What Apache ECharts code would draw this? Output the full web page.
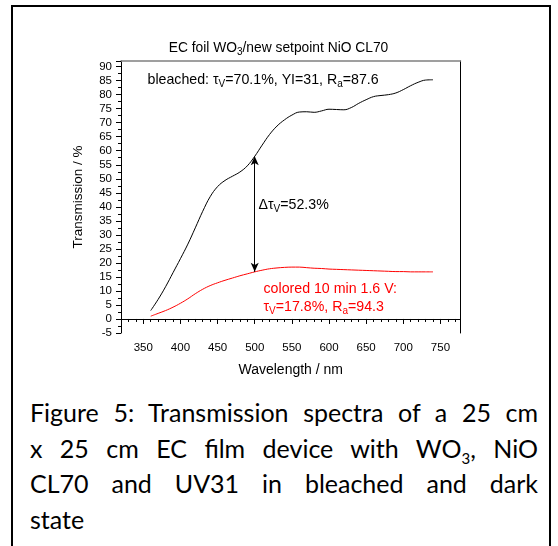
<!DOCTYPE html>
<html lang="en">
<head>
<meta charset="UTF-8">
<title>EC foil WO3 / NiO CL70 transmission</title>
<script src="https://cdn.jsdelivr.net/npm/echarts@6/dist/echarts.min.js"></script>
<style>
    body, html {
        margin: 0;
        padding: 0;
        background: #ffffff;
        width: 558px;
        height: 546px;
        overflow: hidden;
    }
    .frame {
        position: absolute;
        left: 11px;
        top: 5px;
        width: 536px;
        height: 560px;
        border: 2px solid #000;
        border-bottom: none;
    }
    #chart {
        position: absolute;
        left: 0;
        top: 0;
        width: 558px;
        height: 390px;
    }
    .caption {
        position: absolute;
        left: 30px;
        top: 395px;
        width: 508px;
        font-family: 'Lato', sans-serif;
        font-size: 25px;
        line-height: 35.5px;
        color: #000;
    }
    .caption div {
        text-align: justify;
        text-align-last: justify;
    }
    .caption div.last {
        text-align-last: left;
    }
</style>
</head>
<body>
<div class="frame"></div>
<div id="chart"></div>
<div class="caption">
    <div>Figure 5: Transmission spectra of a 25 cm</div>
    <div>x 25 cm EC film device with WO<sub style="font-size:15px;line-height:0">3</sub>, NiO</div>
    <div>CL70 and UV31 in bleached and dark</div>
    <div class="last">state</div>
</div>
<script>
    // wavelength in nm
    const wavelength = [360, 370, 380, 390, 400, 410, 420, 430, 440, 450,
        460, 470, 480, 490, 500, 510, 520, 530, 540, 550,
        560, 570, 580, 590, 600, 610, 620, 630, 640, 650,
        660, 670, 680, 690, 700, 710, 720, 730, 740];
    // bleached state transmission (%)
    const bleached = [3.0, 7.0, 11.5, 16.5, 21.5, 26.7, 32.5, 38.4, 43.6, 47.2,
        49.4, 50.9, 52.4, 54.6, 58.0, 62.0, 65.8, 68.8, 71.0, 72.7,
        73.8, 73.9, 73.7, 74.2, 74.8, 74.7, 74.6, 75.4, 76.9, 78.2,
        79.3, 79.7, 80.0, 80.6, 81.8, 83.2, 84.4, 85.2, 85.3];
    // colored state, 10 min at 1.6 V (%)
    const colored = [1.0, 2.0, 3.0, 4.2, 5.6, 7.2, 9.0, 10.6, 11.9, 12.9,
        13.8, 14.6, 15.4, 16.1, 16.8, 17.4, 17.9, 18.2, 18.4, 18.5,
        18.5, 18.3, 18.1, 18.0, 17.8, 17.7, 17.6, 17.5, 17.4, 17.3,
        17.2, 17.1, 17.0, 16.9, 16.9, 16.8, 16.8, 16.8, 16.8];
    const xTicks = [350, 400, 450, 500, 550, 600, 650, 700, 750];
    const arrowAt = 500;

    const font = "'Liberation Sans', Arial, sans-serif";

    function richFor(color, size) {
        return {
            n: { fontSize: size, fontFamily: font, fill: color, color: color, lineHeight: size + 4 },
            s: { fontSize: Math.round(size * 0.72), fontFamily: font, fill: color, color: color,
                 verticalAlign: 'bottom', lineHeight: Math.round(size * 0.72) }
        };
    }

    function label(x, y, text, color, size, align) {
        return {
            type: 'text',
            x: x,
            y: y,
            silent: true,
            style: {
                text: text,
                rich: richFor(color, size),
                fill: color,
                font: size + 'px ' + font,
                align: align || 'left',
                verticalAlign: 'middle'
            }
        };
    }

    const i500 = wavelength.indexOf(arrowAt);
    const chart = echarts.init(document.getElementById('chart'));

    const option = {
        animation: false,
        textStyle: { fontFamily: font },
        grid: { left: 121, top: 61, width: 339.5, height: 272 },
        xAxis: [{
            type: 'value', min: 320, max: 777, interval: 10, position: 'bottom',
            axisLine: { lineStyle: { color: '#000', width: 1 } },
            axisTick: { length: 3, lineStyle: { color: '#000' } },
            axisLabel: { show: false },
            splitLine: { show: false }
        }, {
            type: 'value', min: 320, max: 777, position: 'bottom',
            axisLine: { show: false },
            axisTick: { customValues: xTicks, length: 5, lineStyle: { color: '#000' } },
            axisLabel: { customValues: xTicks, color: '#000', fontSize: 11.5, margin: 9, fontFamily: font },
            splitLine: { show: false },
            name: 'Wavelength / nm', nameLocation: 'middle', nameGap: 30,
            nameTextStyle: { color: '#000', fontSize: 14, fontFamily: font }
        }, {
            type: 'value', min: 320, max: 777, position: 'top',
            axisLine: { lineStyle: { color: '#808080', width: 1.5 } },
            axisTick: { show: false }, axisLabel: { show: false }, splitLine: { show: false }
        }],
        yAxis: [{
            type: 'value', min: -5, max: 92, interval: 5, position: 'left',
            axisLine: { show: true, lineStyle: { color: '#000', width: 1 } },
            axisTick: { show: true, length: 5, lineStyle: { color: '#000' } },
            minorTick: { show: true, splitNumber: 2, length: 3, lineStyle: { color: '#000' } },
            axisLabel: { color: '#000', fontSize: 11.5, margin: 9, showMaxLabel: false, fontFamily: font },
            splitLine: { show: false },
            name: 'Transmission / %', nameLocation: 'middle', nameGap: 36,
            nameTextStyle: { color: '#000', fontSize: 13.5, fontFamily: font }
        }, {
            type: 'value', min: -5, max: 92, position: 'right',
            axisLine: { show: true, lineStyle: { color: '#000', width: 1 } },
            axisTick: { show: false }, axisLabel: { show: false }, splitLine: { show: false }
        }],
        series: [{
            name: 'bleached',
            type: 'line',
            xAxisIndex: 1,
            data: wavelength.map((w, i) => [w, bleached[i]]),
            showSymbol: false,
            smooth: 0.4,
            lineStyle: { color: '#000', width: 1 },
            markLine: {
                silent: true,
                symbol: ['arrow', 'arrow'],
                symbolSize: [6, 9],
                label: { show: false },
                lineStyle: { color: '#000', width: 1, type: 'solid' },
                data: [[{ coord: [arrowAt, bleached[i500]] }, { coord: [arrowAt, colored[i500]] }]]
            }
        }, {
            name: 'colored',
            type: 'line',
            xAxisIndex: 1,
            data: wavelength.map((w, i) => [w, colored[i]]),
            showSymbol: false,
            smooth: 0.4,
            lineStyle: { color: '#ff0000', width: 1 }
        }],
        graphic: [
            label(278.5, 48, '{n|EC foil WO}{s|3}{n|/new setpoint NiO CL70}', '#000', 13.8, 'center'),
            label(147.5, 80, '{n|bleached: \u03c4}{s|V}{n|=70.1%, YI=31, R}{s|a}{n|=87.6}', '#000', 14.2),
            label(258.5, 205, '{n|\u0394\u03c4}{s|V}{n|=52.3%}', '#000', 14.2),
            label(263.5, 289.5, '{n|colored 10 min 1.6 V:}', '#ff0000', 14.2),
            label(263.5, 307, '{n|\u03c4}{s|V}{n|=17.8%, R}{s|a}{n|=94.3}', '#ff0000', 14.2)
        ]
    };
    chart.setOption(option);
</script>
</body>
</html>
